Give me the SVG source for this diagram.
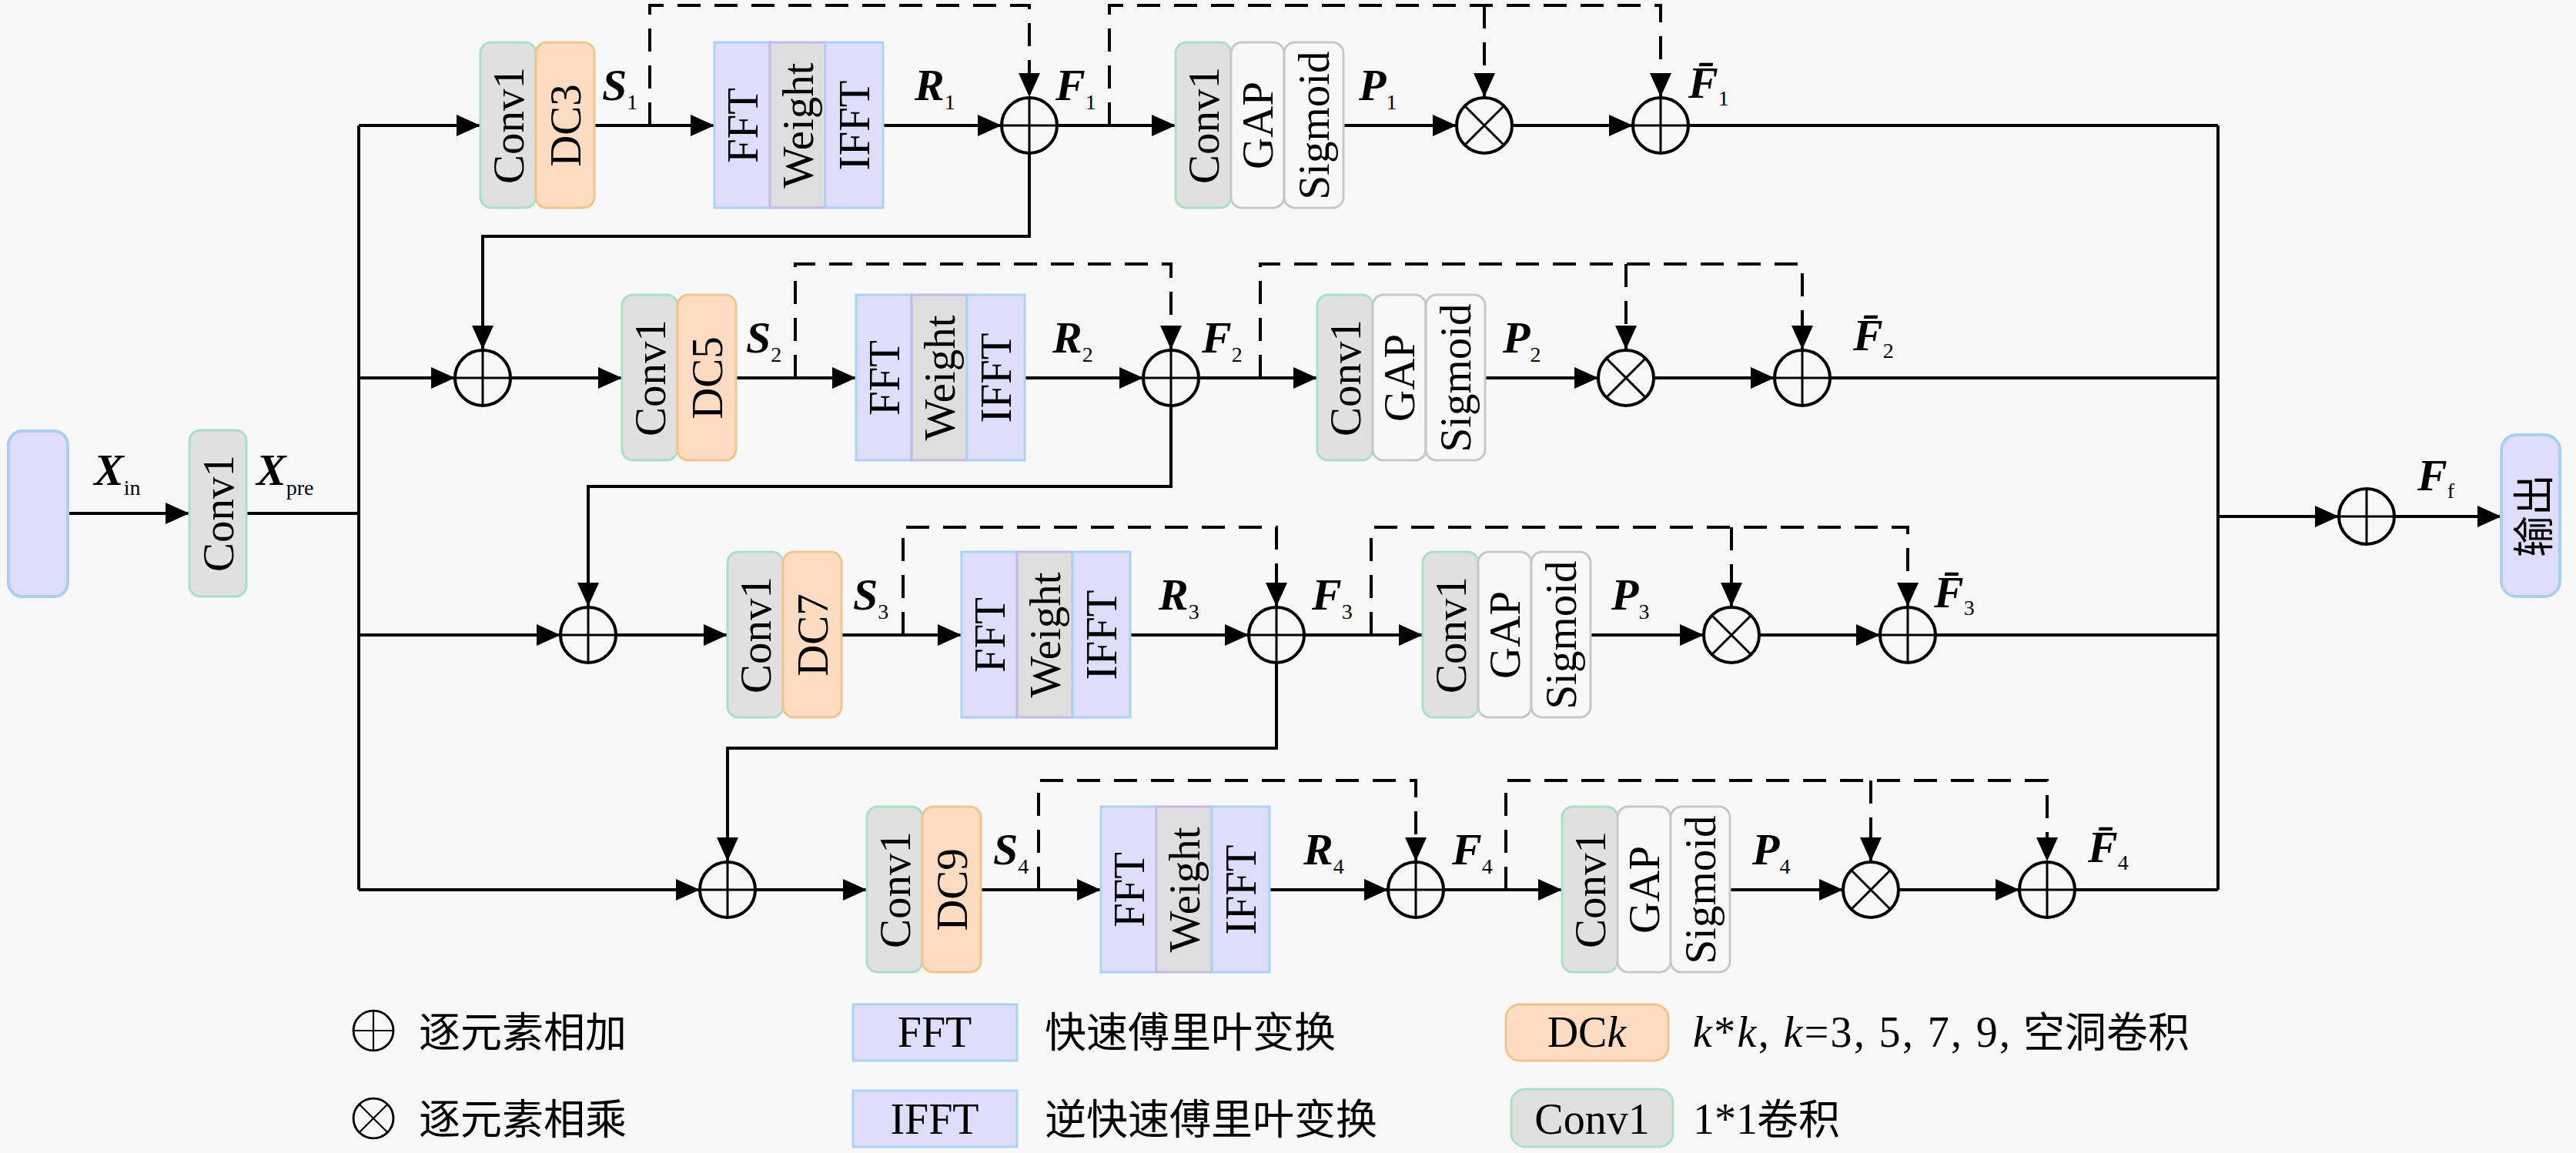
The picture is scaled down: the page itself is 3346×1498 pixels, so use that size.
<svg xmlns="http://www.w3.org/2000/svg" xmlns:xlink="http://www.w3.org/1999/xlink" width="3346" height="1498" viewBox="0 0 3346 1498">
<style>
.ln{stroke:#000;stroke-width:4;fill:none}
.ar{marker-end:url(#ah)}
.ds{stroke-dasharray:30 18}
.conv{fill:#e0e0e0;stroke:#a8e2c6;stroke-width:3}
.dc{fill:#fddcc2;stroke:#f2c48e;stroke-width:3}
.fft{fill:#e0dcfb;stroke:#a8d4f5;stroke-width:3}
.wt{fill:#dedede;stroke:#c8b8ec;stroke-width:3}
.gap{fill:#f8f8f8;stroke:#c8c8c8;stroke-width:3}
.io{fill:#e0dcfb;stroke:#a8d0f5;stroke-width:4}
.bt{font-family:"Liberation Serif",serif;font-size:57px;text-anchor:middle;dominant-baseline:central;fill:#000}
.lb{font-family:"Liberation Serif",serif;font-size:58px;font-weight:bold;font-style:italic;fill:#000}
.sb{font-size:28px;font-weight:normal;font-style:normal}
.cjk{font-family:"Noto Sans CJK SC",sans-serif;font-size:54px;fill:#000}
.lt{font-family:"Liberation Serif",serif;font-size:56px;fill:#000}
.it{font-style:italic}
</style>
<defs>
<marker id="ah" viewBox="0 0 31 28" refX="31" refY="14" markerWidth="31" markerHeight="28" markerUnits="userSpaceOnUse" orient="auto"><path d="M0,0 L31,14 L0,28 Z" fill="#000"/></marker>
<g id="plus"><circle r="36" fill="none" stroke="#000" stroke-width="4"/><path d="M-36,0 H36 M0,-36 V36" stroke="#000" stroke-width="3"/></g>
<g id="times"><circle r="36" fill="none" stroke="#000" stroke-width="4"/><path d="M-25.5,-25.5 L25.5,25.5 M-25.5,25.5 L25.5,-25.5" stroke="#000" stroke-width="3"/></g>
</defs>
<rect x="0" y="0" width="3346" height="1498" fill="#f8f8f8"/>

<g id="connectors">
<path class="ln ar" d="M88,667 H246"/>
<path class="ln" d="M320,667 H466"/>
<path class="ln" d="M466,163 V1156"/>
<path class="ln" d="M2881,163 V1156"/>
<path class="ln ar" d="M2881,671 H3038"/>
<path class="ln ar" d="M3110,671 H3249"/>
<!-- row 1 -->
<path class="ln ar" d="M466,163 H624"/>
<path class="ln ar" d="M772,163 H928"/>
<path class="ln ar" d="M1147,163 H1301"/>
<path class="ln ar" d="M1373,163 H1527"/>
<path class="ln ar" d="M1745,163 H1892"/>
<path class="ln ar" d="M1964,163 H2121"/>
<path class="ln" d="M2193,163 H2881"/>
<path class="ln ds ar" d="M844,163 V7 H1337 V126"/>
<path class="ln ds ar" d="M1441,163 V7 H2157 V126"/>
<path class="ln ds ar" d="M1928,7 V126"/>
<path class="ln ar" d="M1337,199 V307 H627 V454"/>
<!-- row 2 -->
<path class="ln ar" d="M466,491 H591"/>
<path class="ln ar" d="M663,491 H808"/>
<path class="ln ar" d="M956,491 H1112"/>
<path class="ln ar" d="M1331,491 H1485"/>
<path class="ln ar" d="M1557,491 H1711"/>
<path class="ln ar" d="M1929,491 H2076"/>
<path class="ln ar" d="M2148,491 H2305"/>
<path class="ln" d="M2377,491 H2881"/>
<path class="ln ds ar" d="M1033,491 V343 H1521 V454"/>
<path class="ln ds ar" d="M1637,491 V343 H2341 V454"/>
<path class="ln ds ar" d="M2112,343 V454"/>
<path class="ln ar" d="M1521,527 V632 H764 V788"/>
<!-- row 3 -->
<path class="ln ar" d="M466,825 H728"/>
<path class="ln ar" d="M800,825 H945"/>
<path class="ln ar" d="M1093,825 H1249"/>
<path class="ln ar" d="M1468,825 H1622"/>
<path class="ln ar" d="M1694,825 H1848"/>
<path class="ln ar" d="M2066,825 H2213"/>
<path class="ln ar" d="M2285,825 H2442"/>
<path class="ln" d="M2514,825 H2881"/>
<path class="ln ds ar" d="M1173,825 V685 H1658 V788"/>
<path class="ln ds ar" d="M1781,825 V685 H2478 V788"/>
<path class="ln ds ar" d="M2249,685 V788"/>
<path class="ln ar" d="M1658,861 V972 H945 V1119"/>
<!-- row 4 -->
<path class="ln ar" d="M466,1156 H909"/>
<path class="ln ar" d="M981,1156 H1126"/>
<path class="ln ar" d="M1274,1156 H1430"/>
<path class="ln ar" d="M1649,1156 H1803"/>
<path class="ln ar" d="M1875,1156 H2029"/>
<path class="ln ar" d="M2247,1156 H2394"/>
<path class="ln ar" d="M2466,1156 H2623"/>
<path class="ln" d="M2695,1156 H2881"/>
<path class="ln ds ar" d="M1349,1156 V1014 H1839 V1119"/>
<path class="ln ds ar" d="M1956,1156 V1014 H2659 V1119"/>
<path class="ln ds ar" d="M2430,1014 V1119"/>
</g>

<g id="input"><rect class="io" x="11" y="560" width="77" height="215" rx="18"/></g>
<g id="conv-pre"><rect class="conv" x="246" y="559" width="74" height="216" rx="14"/><text class="bt" transform="translate(283,667) rotate(-90)">Conv1</text></g>
<g id="output"><rect class="io" x="3249" y="565" width="76" height="210" rx="20"/><text class="cjk" text-anchor="middle" dominant-baseline="central" font-size="50" transform="translate(3287,670) rotate(-90)">输出</text></g>

<!-- row 1 nodes -->
<g id="r1-conv"><rect class="conv" x="624" y="55" width="72" height="215" rx="14"/><text class="bt" transform="translate(660,163) rotate(-90)">Conv1</text></g>
<g id="r1-dc"><rect class="dc" x="696" y="55" width="76" height="215" rx="14"/><text class="bt" transform="translate(734,163) rotate(-90)">DC3</text></g>
<g id="r1-fft"><rect class="fft" x="928" y="55" width="72" height="215"/><text class="bt" transform="translate(964,163) rotate(-90)">FFT</text></g>
<g id="r1-w"><rect class="wt" x="1000" y="55" width="72" height="215"/><text class="bt" transform="translate(1036,163) rotate(-90)">Weight</text></g>
<g id="r1-ifft"><rect class="fft" x="1072" y="55" width="75" height="215"/><text class="bt" transform="translate(1109.5,163) rotate(-90)">IFFT</text></g>
<g id="r1-add1"><use xlink:href="#plus" x="1337" y="163"/></g>
<g id="r1-aconv"><rect class="conv" x="1527" y="55" width="72" height="215" rx="14"/><text class="bt" transform="translate(1563,163) rotate(-90)">Conv1</text></g>
<g id="r1-gap"><rect class="gap" x="1599" y="55" width="69" height="215" rx="14"/><text class="bt" transform="translate(1633.5,163) rotate(-90)">GAP</text></g>
<g id="r1-sig"><rect class="gap" x="1668" y="55" width="77" height="215" rx="14"/><text class="bt" transform="translate(1706.5,163) rotate(-90)">Sigmoid</text></g>
<g id="r1-mul"><use xlink:href="#times" x="1928" y="163"/></g>
<g id="r1-add2"><use xlink:href="#plus" x="2157" y="163"/></g>

<!-- row 2 nodes -->
<g id="r2-add0"><use xlink:href="#plus" x="627" y="491"/></g>
<g id="r2-conv"><rect class="conv" x="808" y="383" width="72" height="215" rx="14"/><text class="bt" transform="translate(844,491) rotate(-90)">Conv1</text></g>
<g id="r2-dc"><rect class="dc" x="880" y="383" width="76" height="215" rx="14"/><text class="bt" transform="translate(918,491) rotate(-90)">DC5</text></g>
<g id="r2-fft"><rect class="fft" x="1112" y="383" width="72" height="215"/><text class="bt" transform="translate(1148,491) rotate(-90)">FFT</text></g>
<g id="r2-w"><rect class="wt" x="1184" y="383" width="72" height="215"/><text class="bt" transform="translate(1220,491) rotate(-90)">Weight</text></g>
<g id="r2-ifft"><rect class="fft" x="1256" y="383" width="75" height="215"/><text class="bt" transform="translate(1293.5,491) rotate(-90)">IFFT</text></g>
<g id="r2-add1"><use xlink:href="#plus" x="1521" y="491"/></g>
<g id="r2-aconv"><rect class="conv" x="1711" y="383" width="72" height="215" rx="14"/><text class="bt" transform="translate(1747,491) rotate(-90)">Conv1</text></g>
<g id="r2-gap"><rect class="gap" x="1783" y="383" width="69" height="215" rx="14"/><text class="bt" transform="translate(1817.5,491) rotate(-90)">GAP</text></g>
<g id="r2-sig"><rect class="gap" x="1852" y="383" width="77" height="215" rx="14"/><text class="bt" transform="translate(1890.5,491) rotate(-90)">Sigmoid</text></g>
<g id="r2-mul"><use xlink:href="#times" x="2112" y="491"/></g>
<g id="r2-add2"><use xlink:href="#plus" x="2341" y="491"/></g>

<!-- row 3 nodes -->
<g id="r3-add0"><use xlink:href="#plus" x="764" y="825"/></g>
<g id="r3-conv"><rect class="conv" x="945" y="717" width="72" height="215" rx="14"/><text class="bt" transform="translate(981,825) rotate(-90)">Conv1</text></g>
<g id="r3-dc"><rect class="dc" x="1017" y="717" width="76" height="215" rx="14"/><text class="bt" transform="translate(1055,825) rotate(-90)">DC7</text></g>
<g id="r3-fft"><rect class="fft" x="1249" y="717" width="72" height="215"/><text class="bt" transform="translate(1285,825) rotate(-90)">FFT</text></g>
<g id="r3-w"><rect class="wt" x="1321" y="717" width="72" height="215"/><text class="bt" transform="translate(1357,825) rotate(-90)">Weight</text></g>
<g id="r3-ifft"><rect class="fft" x="1393" y="717" width="75" height="215"/><text class="bt" transform="translate(1430.5,825) rotate(-90)">IFFT</text></g>
<g id="r3-add1"><use xlink:href="#plus" x="1658" y="825"/></g>
<g id="r3-aconv"><rect class="conv" x="1848" y="717" width="72" height="215" rx="14"/><text class="bt" transform="translate(1884,825) rotate(-90)">Conv1</text></g>
<g id="r3-gap"><rect class="gap" x="1920" y="717" width="69" height="215" rx="14"/><text class="bt" transform="translate(1954.5,825) rotate(-90)">GAP</text></g>
<g id="r3-sig"><rect class="gap" x="1989" y="717" width="77" height="215" rx="14"/><text class="bt" transform="translate(2027.5,825) rotate(-90)">Sigmoid</text></g>
<g id="r3-mul"><use xlink:href="#times" x="2249" y="825"/></g>
<g id="r3-add2"><use xlink:href="#plus" x="2478" y="825"/></g>

<!-- row 4 nodes -->
<g id="r4-add0"><use xlink:href="#plus" x="945" y="1156"/></g>
<g id="r4-conv"><rect class="conv" x="1126" y="1048" width="72" height="215" rx="14"/><text class="bt" transform="translate(1162,1156) rotate(-90)">Conv1</text></g>
<g id="r4-dc"><rect class="dc" x="1198" y="1048" width="76" height="215" rx="14"/><text class="bt" transform="translate(1236,1156) rotate(-90)">DC9</text></g>
<g id="r4-fft"><rect class="fft" x="1430" y="1048" width="72" height="215"/><text class="bt" transform="translate(1466,1156) rotate(-90)">FFT</text></g>
<g id="r4-w"><rect class="wt" x="1502" y="1048" width="72" height="215"/><text class="bt" transform="translate(1538,1156) rotate(-90)">Weight</text></g>
<g id="r4-ifft"><rect class="fft" x="1574" y="1048" width="75" height="215"/><text class="bt" transform="translate(1611.5,1156) rotate(-90)">IFFT</text></g>
<g id="r4-add1"><use xlink:href="#plus" x="1839" y="1156"/></g>
<g id="r4-aconv"><rect class="conv" x="2029" y="1048" width="72" height="215" rx="14"/><text class="bt" transform="translate(2065,1156) rotate(-90)">Conv1</text></g>
<g id="r4-gap"><rect class="gap" x="2101" y="1048" width="69" height="215" rx="14"/><text class="bt" transform="translate(2135.5,1156) rotate(-90)">GAP</text></g>
<g id="r4-sig"><rect class="gap" x="2170" y="1048" width="77" height="215" rx="14"/><text class="bt" transform="translate(2208.5,1156) rotate(-90)">Sigmoid</text></g>
<g id="r4-mul"><use xlink:href="#times" x="2430" y="1156"/></g>
<g id="r4-add2"><use xlink:href="#plus" x="2659" y="1156"/></g>

<g id="out-add"><use xlink:href="#plus" x="3074" y="671"/></g>

<g id="labels">
<text class="lb" x="122" y="630">X<tspan class="sb" dy="13">in</tspan></text>
<text class="lb" x="333" y="630">X<tspan class="sb" dy="13">pre</tspan></text>
<text class="lb" x="3140" y="637">F<tspan class="sb" dy="10">f</tspan></text>

<text class="lb" x="782" y="130">S<tspan class="sb" dy="12">1</tspan></text>
<text class="lb" x="1188" y="130">R<tspan class="sb" dy="12">1</tspan></text>
<text class="lb" x="1371" y="130">F<tspan class="sb" dy="12">1</tspan></text>
<text class="lb" x="1765" y="130">P<tspan class="sb" dy="12">1</tspan></text>
<text class="lb" x="2193" y="127">F&#x304;<tspan class="sb" dy="10">1</tspan></text>

<text class="lb" x="969" y="458">S<tspan class="sb" dy="12">2</tspan></text>
<text class="lb" x="1367" y="458">R<tspan class="sb" dy="12">2</tspan></text>
<text class="lb" x="1561" y="458">F<tspan class="sb" dy="12">2</tspan></text>
<text class="lb" x="1952" y="458">P<tspan class="sb" dy="12">2</tspan></text>
<text class="lb" x="2407" y="455">F&#x304;<tspan class="sb" dy="10">2</tspan></text>

<text class="lb" x="1108" y="792">S<tspan class="sb" dy="12">3</tspan></text>
<text class="lb" x="1505" y="792">R<tspan class="sb" dy="12">3</tspan></text>
<text class="lb" x="1704" y="792">F<tspan class="sb" dy="12">3</tspan></text>
<text class="lb" x="2093" y="792">P<tspan class="sb" dy="12">3</tspan></text>
<text class="lb" x="2512" y="789">F&#x304;<tspan class="sb" dy="10">3</tspan></text>

<text class="lb" x="1290" y="1123">S<tspan class="sb" dy="12">4</tspan></text>
<text class="lb" x="1693" y="1123">R<tspan class="sb" dy="12">4</tspan></text>
<text class="lb" x="1886" y="1123">F<tspan class="sb" dy="12">4</tspan></text>
<text class="lb" x="2276" y="1123">P<tspan class="sb" dy="12">4</tspan></text>
<text class="lb" x="2712" y="1120">F&#x304;<tspan class="sb" dy="10">4</tspan></text>
</g>

<g id="legend">
<g id="lg-add"><use xlink:href="#plus" transform="translate(485,1339) scale(0.72)"/><text class="cjk" x="544" y="1361">逐元素相加</text></g>
<g id="lg-mul"><use xlink:href="#times" transform="translate(485,1453) scale(0.72)"/><text class="cjk" x="544" y="1474">逐元素相乘</text></g>
<g id="lg-fft"><rect class="fft" x="1108" y="1305" width="213" height="73"/><text class="lt" x="1214" y="1360" text-anchor="middle">FFT</text><text class="cjk" x="1357" y="1361">快速傅里叶变换</text></g>
<g id="lg-ifft"><rect class="fft" x="1108" y="1417" width="213" height="73"/><text class="lt" x="1214" y="1473" text-anchor="middle">IFFT</text><text class="cjk" x="1357" y="1474">逆快速傅里叶变换</text></g>
<g id="lg-dc"><rect class="dc" x="1956" y="1305" width="211" height="73" rx="18"/><text class="lt" x="2061" y="1360" text-anchor="middle">DC<tspan class="it">k</tspan></text><text class="lt" x="2199" y="1360" textLength="412" lengthAdjust="spacing"><tspan class="it">k</tspan>*<tspan class="it">k</tspan>, <tspan class="it">k</tspan>=3, 5, 7, 9,</text><text class="cjk" x="2628" y="1361">空洞卷积</text></g>
<g id="lg-conv"><rect class="conv" x="1963" y="1415" width="210" height="75" rx="18"/><text class="lt" x="2068" y="1473" text-anchor="middle">Conv1</text><text class="lt" x="2199" y="1473">1*1</text><text class="cjk" x="2282" y="1474">卷积</text></g>
</g>
</svg>
